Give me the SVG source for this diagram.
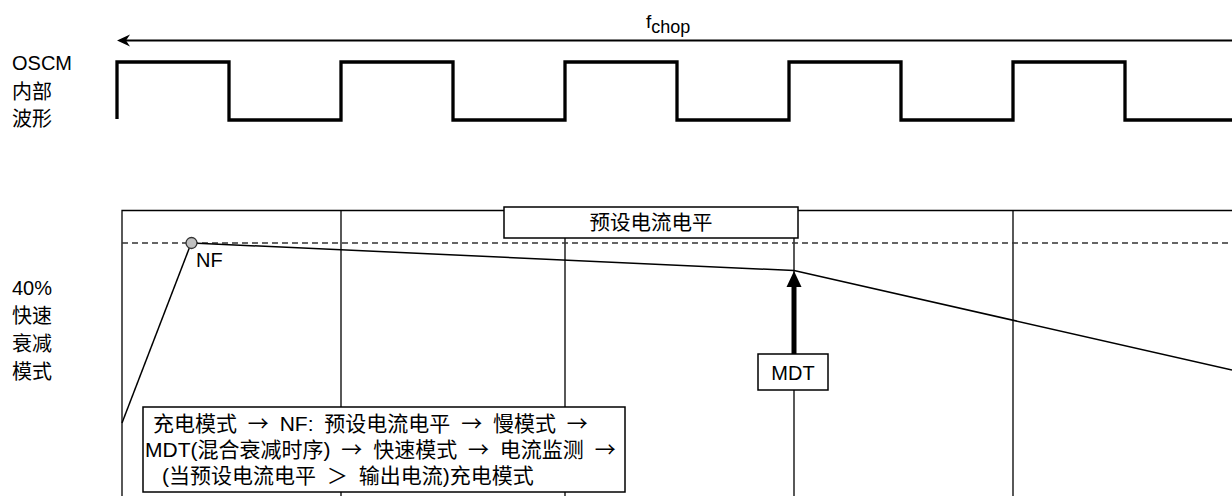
<svg xmlns="http://www.w3.org/2000/svg" width="1232" height="496" viewBox="0 0 1232 496">
<style>
text{font-family:"Liberation Sans","Noto Sans CJK SC",sans-serif;fill:#000}
.lbl{font-size:20px}
.seq{font-size:21px;word-spacing:5px}
.ar{font-family:"Noto Sans CJK SC",sans-serif}
.box{fill:#fff;stroke:#000;stroke-width:1.5}
.grid{stroke:#000;stroke-width:1.3;fill:none}
.cur{stroke:#000;stroke-width:1.5;fill:none}
</style>
<rect width="1232" height="496" fill="#fff"/>
<g id="labels">
<text class="lbl" x="12" y="70">OSCM</text>
<text class="lbl" x="12" y="99">内部</text>
<text class="lbl" x="12" y="126">波形</text>
<text class="lbl" x="12" y="295">40%</text>
<text class="lbl" x="12" y="323">快速</text>
<text class="lbl" x="12" y="351">衰减</text>
<text class="lbl" x="12" y="379">模式</text>
</g>
<g id="fchop">
<line x1="124" y1="40.5" x2="1232" y2="40.5" stroke="#000" stroke-width="2"/>
<polygon points="117,40.5 130,34.5 126,40.5 130,46.5" fill="#000"/>
<text x="646" y="28" font-size="19">f<tspan font-size="18" dy="5">chop</tspan></text>
</g>
<g id="waveform">
<path d="M117,119 V62 H229 V120 H341 V62 H453 V120 H565 V62 H677 V120 H789 V62 H901 V120 H1013 V62 H1125 V120 H1232" fill="none" stroke="#000" stroke-width="3.3" stroke-linejoin="miter"/>
</g>
<g id="grid">
<path class="grid" d="M122,496 V210.5 H1232 M341,210.5 V496 M565,210.5 V496 M794,210.5 V496 M1013,210.5 V496"/>
<line x1="122" y1="243" x2="1232" y2="243" stroke="#333" stroke-width="1.5" stroke-dasharray="6,4"/>
</g>
<g id="connectors">
<polyline class="cur" points="122,423 189.5,247.5"/>
<polyline class="cur" points="192,243 794,270.5 1232,370"/>
<line x1="794" y1="354" x2="794" y2="284" stroke="#000" stroke-width="5"/>
<polygon points="794,271 786.5,287 801.5,287" fill="#000"/>
</g>
<g id="nf">
<circle cx="191.5" cy="243" r="5.5" fill="#c0c0c0" stroke="#333" stroke-width="1.3"/>
<text x="196" y="267" font-size="20">NF</text>
</g>
<g id="preset">
<rect class="box" x="504" y="207" width="294" height="31"/>
<text x="651" y="230" font-size="20.5" text-anchor="middle">预设电流电平</text>
</g>
<g id="mdt">
<rect class="box" x="758" y="354" width="70" height="36"/>
<text x="793" y="380" font-size="20" text-anchor="middle">MDT</text>
</g>
<g id="sequence">
<rect class="box" x="143" y="407" width="482" height="85"/>
<text class="seq" x="153" y="431">充电模式 <tspan class="ar">→</tspan> NF: 预设电流电平 <tspan class="ar">→</tspan> 慢模式 <tspan class="ar">→</tspan></text>
<text class="seq" x="145" y="457">MDT(混合衰减时序) <tspan class="ar">→</tspan> 快速模式 <tspan class="ar">→</tspan> 电流监测 <tspan class="ar">→</tspan></text>
<text class="seq" x="162" y="483">(当预设电流电平 ＞ 输出电流)充电模式</text>
</g>
</svg>
